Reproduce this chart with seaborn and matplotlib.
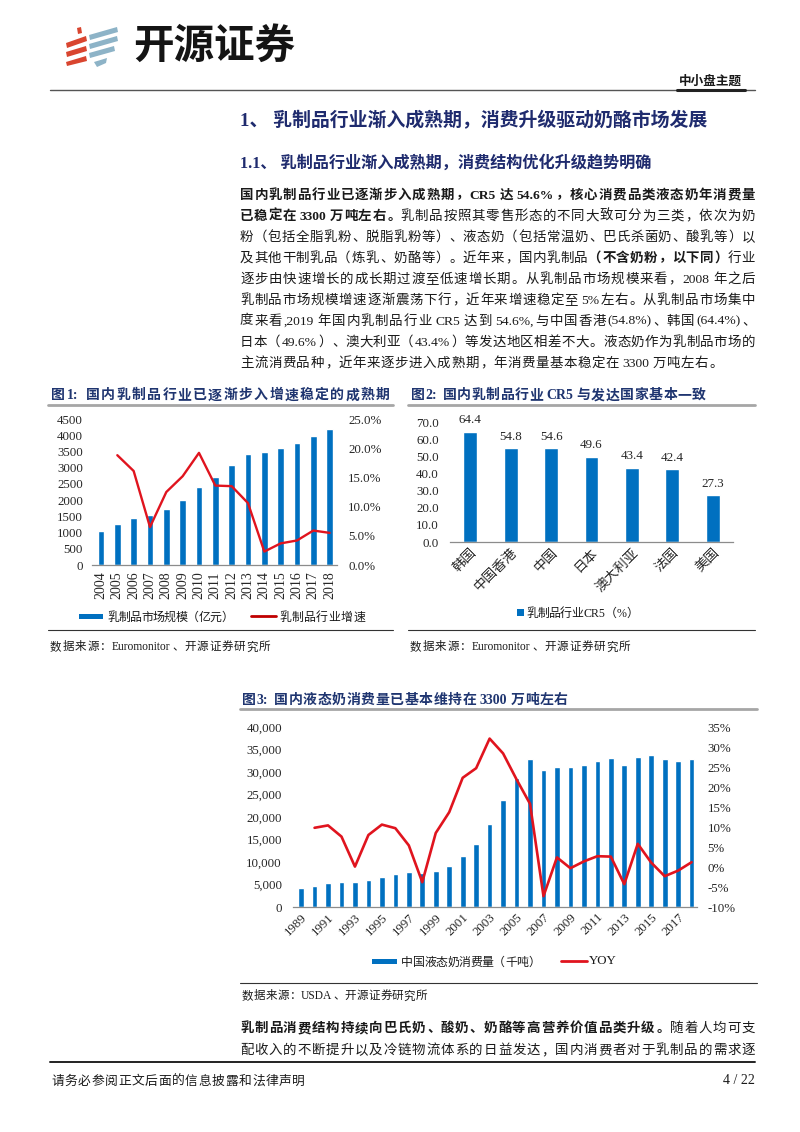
import numpy as np
import pandas as pd
import matplotlib
matplotlib.use('Agg')
import matplotlib.pyplot as plt
import seaborn as sns
from matplotlib.patches import Rectangle, Polygon
from matplotlib.lines import Line2D
from matplotlib.ticker import FuncFormatter

# ---------------- data ----------------
years1 = [str(y) for y in range(2004, 2019)]
market_size = [1050, 1256, 1462, 1545, 1740, 2018, 2389, 2718, 3079, 3408, 3491, 3604, 3759, 3975, 4191]
market_growth = [np.nan, 18.8, 16.1, 6.5, 12.5, 15.2, 19.2, 13.6, 13.5, 10.6, 2.3, 3.7, 4.2, 5.9, 5.5]

regions = ['韩国', '中国香港', '中国', '日本', '澳大利亚', '法国', '美国']
cr5 = [64.4, 54.8, 54.6, 49.6, 43.4, 42.4, 27.3]

years3 = [str(y) for y in range(1989, 2019)]
milk_consumption = [4300, 4740, 5260, 5630, 5650, 6070, 6740, 7400, 7780, 7450,
                    8070, 9190, 11260, 14000, 18520, 23700, 28670, 32960, 30520, 31190,
                    31110, 31630, 32440, 33190, 31630, 33410, 33780, 32890, 32520, 32960]
milk_yoy = [np.nan, 9.8, 10.4, 7.6, 0.1, 8.0, 10.6, 9.7, 5.4, -3.8,
            8.5, 13.7, 22.3, 24.7, 32.1, 28.4, 21.9, 15.8, -7.3, 2.4,
            -0.3, 1.4, 2.7, 2.6, -4.3, 5.8, 1.1, -2.3, -0.9, 1.2]

legend1 = ['乳制品市场规模（亿元）', '乳制品行业增速']
legend2 = '乳制品行业CR5（%）'
legend3 = ['中国液态奶消费量（千吨）', 'YOY']

# ---------------- style ----------------
sns.set_theme(style='white')
FAM = ['Liberation Serif', 'Noto Sans CJK SC']
plt.rcParams['font.family'] = FAM
plt.rcParams['axes.unicode_minus'] = False

BLUE = '#0070C0'
RED = '#E0141E'
NAVY = '#1F2B6E'
TNAVY = '#1F3570'
TXT = '#1a1a1a'

W, H = 800, 1132
fig = plt.figure(figsize=(W / 100, H / 100), dpi=100)
fig.patch.set_facecolor('white')
renderer = fig.canvas.get_renderer()


def fx(x):
    return x / W


def fy(y):
    return 1 - y / H


def add_ax(l, t, r, b):
    return fig.add_axes([fx(l), fy(b), (r - l) / W, (b - t) / H])


def measure(s, size, weight='normal', family=None):
    t = fig.text(0, 0, s, fontsize=size, weight=weight, family=family or FAM)
    w = t.get_window_extent(renderer).width
    t.remove()
    return w


def fit_text(x, y, s, width, weight='normal', color=TXT, family=None, ha='left'):
    size = 10 * width / measure(s, 10, weight, family)
    return fig.text(fx(x), fy(y), s, fontsize=size, weight=weight, color=color,
                    family=family or FAM, ha=ha, va='center')


def hline(x0, x1, y, color='#333333', lw=0.8):
    fig.add_artist(Line2D([fx(x0), fx(x1)], [fy(y), fy(y)], transform=fig.transFigure,
                          color=color, lw=lw))


def is_wide(tok):
    return len(tok) == 1 and ord(tok) > 0x2E80


def draw_line(segs, y, x0=240, x1=755, size=9.7, justify=True, color=TXT, track=0.6):
    em = size * 100 / 72
    toks = []
    for s, b in segs:
        buf = ''
        for ch in s:
            if is_wide(ch) or ch == ' ':
                if buf:
                    toks.append((buf, b))
                    buf = ''
                toks.append((ch, b))
            else:
                buf += ch
        if buf:
            toks.append((buf, b))
    widths = []
    for t, b in toks:
        if t == ' ':
            widths.append(0.12 * em)
        elif is_wide(t):
            widths.append(em)
        else:
            widths.append(measure(t, size, 'bold' if b else 'normal') + 0.05 * em)
    natural = sum(widths)
    n = len(toks)
    gap = (x1 - x0 - natural) / (n - 1) if (justify and n > 1) else track
    base = y + 0.38 * em
    x = x0
    for (t, b), w in zip(toks, widths):
        wt = 'bold' if b else 'normal'
        if t != ' ':
            if is_wide(t):
                if t in '，。、：；':
                    px, ha = x + 0.05 * em, 'left'
                elif t in '（':
                    px, ha = x + w - 0.05 * em, 'right'
                elif t in '）':
                    px, ha = x + 0.05 * em, 'left'
                else:
                    px, ha = x + w / 2, 'center'
            else:
                px, ha = x + 0.025 * em, 'left'
            fig.text(fx(px), fy(base), t, fontsize=size, weight=wt, color=color,
                     ha=ha, va='baseline', family=FAM)
        x += w + gap


# ---------------- header ----------------
for pts in [[(77, 28), (81, 27), (82, 33), (78, 34)],
            [(66, 43), (86, 36), (87, 41), (67, 48)],
            [(66, 52), (86, 46), (87, 51), (67, 57)],
            [(66, 62), (86, 56), (87, 61), (67, 66)]]:
    fig.add_artist(Polygon([(fx(a), fy(b)) for a, b in pts], closed=True,
                           transform=fig.transFigure, color='#D9452F', lw=0))
for pts in [[(89, 35), (117, 27), (118, 32), (90, 40)],
            [(89, 44), (117, 36), (118, 41), (90, 49)],
            [(89, 53), (114, 46), (115, 51), (90, 58)],
            [(94, 62), (107, 58), (106, 63), (97, 67)]]:
    fig.add_artist(Polygon([(fx(a), fy(b)) for a, b in pts], closed=True,
                           transform=fig.transFigure, color='#8DB3C7', lw=0))
fit_text(133, 46, '开源证券', 162, weight='bold', color='#141414', family='Noto Sans CJK SC')
fit_text(679, 82, '中小盘主题', 63, weight='bold', color=TXT)
hline(50, 755, 90, color='#555555', lw=1.0)
hline(677, 745, 89.5, color='#222222', lw=2.2)

# ---------------- headings & paragraph ----------------
fit_text(240, 121, '1、 乳制品行业渐入成熟期，消费升级驱动奶酪市场发展', 468, weight='bold', color=NAVY)
fit_text(240, 163, '1.1、 乳制品行业渐入成熟期，消费结构优化升级趋势明确', 412, weight='bold', color=NAVY)

para = [
    [("国内乳制品行业已逐渐步入成熟期，CR5 达 54.6%，核心消费品类液态奶年消费量", True)],
    [("已稳定在 3300 万吨左右。", True), ("乳制品按照其零售形态的不同大致可分为三类，依次为奶", False)],
    [("粉（包括全脂乳粉、脱脂乳粉等）、液态奶（包括常温奶、巴氏杀菌奶、酸乳等）以", False)],
    [("及其他干制乳品（炼乳、奶酪等）。近年来，国内乳制品", False), ("（不含奶粉，以下同）", True), ("行业", False)],
    [("逐步由快速增长的成长期过渡至低速增长期。从乳制品市场规模来看，2008 年之后", False)],
    [("乳制品市场规模增速逐渐震荡下行，近年来增速稳定至 5%左右。从乳制品市场集中", False)],
    [("度来看,2019 年国内乳制品行业 CR5 达到 54.6%,与中国香港(54.8%)、韩国(64.4%)、", False)],
    [("日本（49.6%）、澳大利亚（43.4%）等发达地区相差不大。液态奶作为乳制品市场的", False)],
    [("主流消费品种，近年来逐步进入成熟期，年消费量基本稳定在 3300 万吨左右。", False)],
]
for i, segs in enumerate(para):
    draw_line(segs, 193.5 + i * 21.0, justify=(i < len(para) - 1))

# ---------------- chart titles ----------------
draw_line([("图1:  国内乳制品行业已逐渐步入增速稳定的成熟期", True)], 394, x0=51, x1=390, size=10, color=TNAVY)
hline(48, 393, 405, color='#a6a6a6', lw=2)
draw_line([("图2:  国内乳制品行业 CR5 与发达国家基本一致", True)], 394, x0=411, x1=706, size=10, color=TNAVY)
hline(408, 755, 405, color='#a6a6a6', lw=2)
draw_line([("图3:  国内液态奶消费量已基本维持在 3300 万吨左右", True)], 699, x0=242, x1=568, size=10, color=TNAVY)
hline(240, 757, 709, color='#a6a6a6', lw=2)


def style_axis(ax, bottom=True):
    for s in ['top', 'left', 'right']:
        ax.spines[s].set_visible(False)
    ax.spines['bottom'].set_visible(bottom)
    if bottom:
        ax.spines['bottom'].set_color('#8c8c8c')
        ax.spines['bottom'].set_linewidth(0.9)
    ax.tick_params(length=0, colors='#262626', labelsize=9.3)
    ax.set_xlabel('')
    ax.set_ylabel('')
    ax.grid(False)


# ---------------- chart 1 ----------------
ax1 = add_ax(92, 419, 337, 565)
sns.barplot(x=years1, y=market_size, color=BLUE, saturation=1, width=0.4, ax=ax1)
ax1.set_xlim(-0.55, 14.45)
ax1.set_ylim(0, 4500)
ax1.set_yticks(range(0, 4501, 500))
style_axis(ax1)
ax1.tick_params(axis='y', pad=6.5)
ax1.tick_params(axis='x', pad=4.5, labelsize=10)
for lab in ax1.get_xticklabels():
    lab.set_rotation(90)
ax1r = ax1.twinx()
sns.lineplot(x=np.arange(len(years1)), y=market_growth, color=RED, lw=1.7, ax=ax1r)
ax1r.set_ylim(0, 25)
ax1r.set_yticks(range(0, 26, 5))
ax1r.yaxis.set_major_formatter(FuncFormatter(lambda v, p: f'{v:.1f}%'))
style_axis(ax1r, bottom=False)
ax1r.tick_params(axis='y', pad=8)

# legend 1
fig.add_artist(Rectangle((fx(79), fy(618.5)), 24 / W, 5 / H, transform=fig.transFigure, color=BLUE, lw=0))
draw_line([(legend1[0], False)], 616, x0=107, x1=233, size=8.6)
hline(251, 276, 616, color='#C00000', lw=2)
draw_line([(legend1[1], False)], 616, x0=279, x1=365, size=8.6)

# source 1
hline(48, 393, 630, color='#333333', lw=0.8)
draw_line([("数据来源：Euromonitor、开源证券研究所", False)], 646, x0=50, x1=270, size=8.3)

# ---------------- chart 2 ----------------
ax2 = add_ax(450, 422, 733, 542)
sns.barplot(x=regions, y=cr5, color=BLUE, saturation=1, width=0.34, ax=ax2)
ax2.set_ylim(0, 70)
ax2.set_yticks(range(0, 71, 10))
ax2.yaxis.set_major_formatter(FuncFormatter(lambda v, p: f'{v:.1f}'))
style_axis(ax2)
ax2.tick_params(axis='y', pad=8)
ax2.tick_params(axis='x', pad=3, labelsize=9.8)
for lab in ax2.get_xticklabels():
    lab.set_rotation(45)
    lab.set_ha('right')
    lab.set_va('top')
    lab.set_rotation_mode('anchor')
ax2.bar_label(ax2.containers[0], fmt='%.1f', padding=4, fontsize=9.4, color='#262626')

fig.add_artist(Rectangle((fx(517), fy(615.5)), 7 / W, 7 / H, transform=fig.transFigure, color=BLUE, lw=0))
draw_line([(legend2, False)], 612, x0=526, x1=638, size=8.6)

hline(408, 755, 630, color='#333333', lw=0.8)
draw_line([("数据来源：Euromonitor、开源证券研究所", False)], 646, x0=410, x1=630, size=8.3)

# ---------------- chart 3 ----------------
ax3 = add_ax(293, 727, 697, 907)
sns.barplot(x=years3, y=milk_consumption, color=BLUE, saturation=1, width=0.42, ax=ax3)
ax3.set_xlim(-0.6, 29.4)
ax3.set_ylim(0, 40000)
ax3.set_yticks(range(0, 40001, 5000))
ax3.yaxis.set_major_formatter(FuncFormatter(lambda v, p: f'{v:,.0f}'))
style_axis(ax3)
ax3.tick_params(axis='y', pad=8)
ax3.set_xticks(range(0, len(years3), 2))
ax3.set_xticklabels(years3[::2], rotation=45, ha='right', va='top', rotation_mode='anchor')
ax3.tick_params(axis='x', pad=3)
ax3r = ax3.twinx()
sns.lineplot(x=np.arange(len(years3)), y=milk_yoy, color=RED, lw=1.9, ax=ax3r)
ax3r.set_ylim(-10, 35)
ax3r.set_yticks(range(-10, 36, 5))
ax3r.yaxis.set_major_formatter(FuncFormatter(lambda v, p: f'{v:.0f}%'))
style_axis(ax3r, bottom=False)
ax3r.tick_params(axis='y', pad=7.5)

fig.add_artist(Rectangle((fx(372), fy(963.5)), 25 / W, 5 / H, transform=fig.transFigure, color=BLUE, lw=0))
draw_line([(legend3[0], False)], 961, x0=401, x1=540, size=8.6)
hline(561, 587, 961, color=RED, lw=2)
fig.text(fx(589), fy(961), legend3[1], fontsize=9.3, color=TXT, ha='left', va='center')

hline(240, 757, 983, color='#333333', lw=0.8)
draw_line([("数据来源：USDA、开源证券研究所", False)], 995, x0=242, x1=427, size=8.3)

# ---------------- bottom text & footer ----------------
draw_line([("乳制品消费结构持续向巴氏奶、酸奶、奶酪等高营养价值品类升级。", True), ("随着人均可支", False)], 1027)
draw_line([("配收入的不断提升以及冷链物流体系的日益发达，国内消费者对于乳制品的需求逐", False)], 1049)
hline(50, 755, 1062, color='#222222', lw=1.4)
draw_line([("请务必参阅正文后面的信息披露和法律声明", False)], 1080, x0=51, x1=305, size=9.2)
fig.text(fx(755), fy(1080), '4 / 22', fontsize=10, color=TXT, ha='right', va='center')

fig.savefig('out.png', dpi=100, facecolor='white')
